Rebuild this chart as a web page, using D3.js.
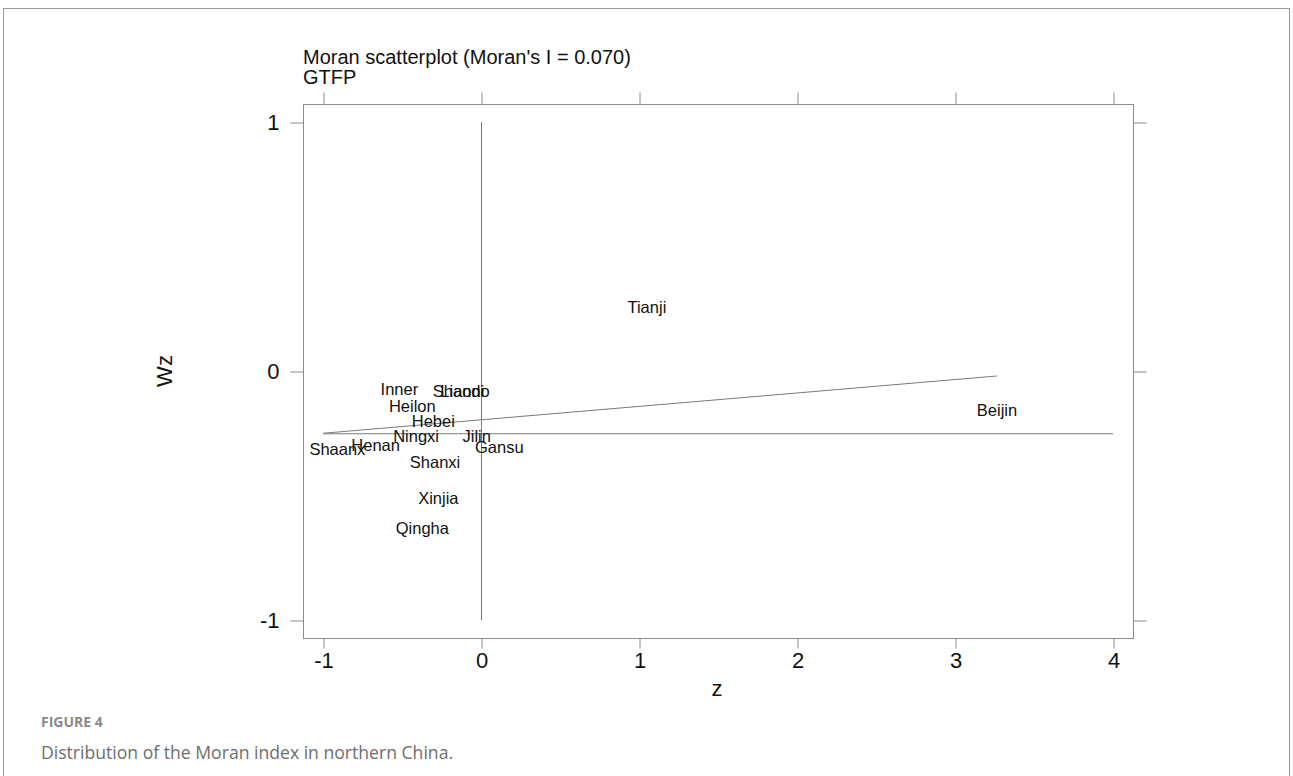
<!DOCTYPE html>
<html>
<head>
<meta charset="utf-8">
<script src="https://cdn.jsdelivr.net/npm/d3@7"></script>
<style>
  html, body { margin: 0; padding: 0; background: #fff; }
  svg { display: block; }
</style>
</head>
<body>
<svg id="chart" width="1293" height="776"></svg>
<script>
// Province labels (Stata truncates names to six characters) and their standardized values
const regions = ["Beijin", "Tianji", "Inner ", "Shando", "Liaoni", "Heilon", "Hebei", "Ningxi", "Jilin", "Gansu", "Henan", "Shaanx", "Shanxi", "Xinjia", "Qingha"];
const zValues  = [3.266, 1.05, -0.502, -0.125, -0.118, -0.435, -0.302, -0.411, -0.027, 0.116, -0.667, -0.909, -0.291, -0.270, -0.371];
const wzValues = [-0.157, 0.257, -0.072, -0.083, -0.083, -0.143, -0.202, -0.261, -0.261, -0.305, -0.297, -0.315, -0.368, -0.511, -0.632];

// Fitted line (slope = Moran's I) and reference lines
const fitZ = [-1, 3.266];
const fitWz = [-0.25, -0.02];
const refVerticalZ = 0, refVerticalWz = [-1, 1];
const refHorizontalWz = -0.25, refHorizontalZ = [-1, 4];

const xTicks = [-1, 0, 1, 2, 3, 4];
const yTicks = [-1, 0, 1];

const titleLines = ["Moran scatterplot (Moran's I = 0.070)", "GTFP"];
const captionLabel = "FIGURE 4";
const captionText = "Distribution of the Moran index in northern China.";

const svg = d3.select("#chart");
const plot = { left: 303, right: 1133, top: 104, bottom: 638 };

const x = d3.scaleLinear().domain([-1, 4]).range([323, 1113]);
const y = d3.scaleLinear().domain([-1, 1]).range([620, 122]);

const axisFont = "'Liberation Sans', Arial, sans-serif";
const frameColor = "#8c8c8c";
const plainNumber = d => String(d);

// Outer figure frame (open at the bottom of the view)
svg.append("rect")
  .attr("x", 3.5).attr("y", 8.5).attr("width", 1286).attr("height", 800)
  .attr("fill", "none").attr("stroke", "#9a9a9a").attr("stroke-width", 1);

// Plot region frame
svg.append("rect")
  .attr("x", plot.left + 0.5).attr("y", plot.top + 0.5)
  .attr("width", plot.right - plot.left).attr("height", plot.bottom - plot.top)
  .attr("fill", "none").attr("stroke", frameColor).attr("stroke-width", 1);

function styleAxis(g, showText) {
  g.select(".domain").remove();
  g.selectAll(".tick line").attr("stroke", frameColor).attr("stroke-width", 1);
  g.selectAll(".tick text")
    .attr("font-family", axisFont).attr("font-size", 22).attr("fill", "#111")
    .style("display", showText ? null : "none");
}

// Bottom axis with labels, top axis mirrored ticks only
svg.append("g").attr("transform", `translate(0.5,${plot.bottom + 0.5})`)
  .call(d3.axisBottom(x).tickValues(xTicks).tickSize(10).tickPadding(4).tickFormat(plainNumber))
  .call(g => styleAxis(g, true));
svg.append("g").attr("transform", `translate(0.5,${plot.top + 0.5})`)
  .call(d3.axisTop(x).tickValues(xTicks).tickSize(12).tickFormat(""))
  .call(g => styleAxis(g, false));

// Left axis with labels, right axis mirrored ticks only
svg.append("g").attr("transform", `translate(${plot.left + 0.5},0.5)`)
  .call(d3.axisLeft(y).tickValues(yTicks).tickSize(13).tickPadding(11).tickFormat(plainNumber))
  .call(g => styleAxis(g, true));
svg.append("g").attr("transform", `translate(${plot.right + 0.5},0.5)`)
  .call(d3.axisRight(y).tickValues(yTicks).tickSize(13).tickFormat(""))
  .call(g => styleAxis(g, false));

// Reference lines
const lineColor = "#7a7a7a";
svg.append("line")
  .attr("x1", x(refVerticalZ) + 0.5).attr("x2", x(refVerticalZ) + 0.5)
  .attr("y1", y(refVerticalWz[0])).attr("y2", y(refVerticalWz[1]))
  .attr("stroke", lineColor).attr("stroke-width", 1);
svg.append("line")
  .attr("x1", x(refHorizontalZ[0])).attr("x2", x(refHorizontalZ[1]))
  .attr("y1", y(refHorizontalWz) + 0.5).attr("y2", y(refHorizontalWz) + 0.5)
  .attr("stroke", lineColor).attr("stroke-width", 1);

// Fitted line
svg.append("line")
  .attr("x1", x(fitZ[0])).attr("y1", y(fitWz[0]))
  .attr("x2", x(fitZ[1])).attr("y2", y(fitWz[1]))
  .attr("stroke", lineColor).attr("stroke-width", 1);

// Point labels centred on each observation
svg.append("g").selectAll("text")
  .data(regions.map((r, i) => ({ name: r, z: zValues[i], wz: wzValues[i] })))
  .join("text")
  .attr("x", d => x(d.z))
  .attr("y", d => y(d.wz))
  .attr("dy", "0.35em")
  .attr("text-anchor", "middle")
  .attr("font-family", axisFont).attr("font-size", 16.5).attr("fill", "#111")
  .style("white-space", "pre")
  .text(d => d.name);

// Axis titles
svg.append("text")
  .attr("x", 717).attr("y", 696)
  .attr("text-anchor", "middle")
  .attr("font-family", axisFont).attr("font-size", 22).attr("fill", "#111")
  .text("z");
svg.append("text")
  .attr("transform", "translate(172,371) rotate(-90)")
  .attr("text-anchor", "middle")
  .attr("font-family", axisFont).attr("font-size", 22).attr("fill", "#111")
  .text("Wz");

// Title
svg.append("g").selectAll("text")
  .data(titleLines)
  .join("text")
  .attr("x", 303)
  .attr("y", (d, i) => 64 + i * 20)
  .attr("font-family", axisFont).attr("font-size", 20).attr("fill", "#111")
  .text(d => d);

// Caption
svg.append("text")
  .attr("x", 41).attr("y", 727)
  .attr("font-family", "'Open Sans', 'Noto Sans', sans-serif")
  .attr("font-size", 14).attr("font-weight", 700).attr("fill", "#8a8a8a")
  .text(captionLabel);
svg.append("text")
  .attr("x", 41).attr("y", 759)
  .attr("font-family", "'Open Sans', 'Noto Sans', sans-serif")
  .attr("font-size", 17.6).attr("fill", "#6e6e6e")
  .text(captionText);
</script>
</body>
</html>
